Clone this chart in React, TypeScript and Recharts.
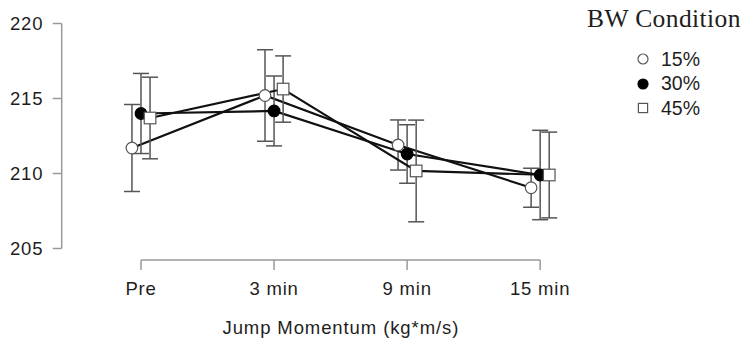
import React from "react";
import { LineChart, Line, XAxis, YAxis, ErrorBar, ReferenceLine } from "recharts";

const timePoints = ["Pre", "3 min", "9 min", "15 min"];
const yTicks = [205, 210, 215, 220];

// means and error bar half-widths
const mean15 = [211.7, 215.2, 211.9, 209.05];
const err15 = [2.9, 3.05, 1.67, 1.3];
const mean30 = [214.0, 214.17, 211.3, 209.9];
const err30 = [2.67, 2.33, 1.95, 2.98];
const mean45 = [213.7, 215.63, 210.17, 209.9];
const err45 = [2.72, 2.21, 3.39, 2.86];

const FONT = "'Liberation Sans', Arial, sans-serif";
const AXIS_GREY = "#9a9a9a";
const MARK_GREY = "#555";

const X_MIN = -0.596;
const X_MAX = 3.6;
const Y_MIN = 204.233;
const DODGE = 0.068;

type Kind = "open" | "filled" | "square";

const series: { name: string; mean: number[]; err: number[]; offset: number; kind: Kind }[] = [
  { name: "15%", mean: mean15, err: err15, offset: -DODGE, kind: "open" },
  { name: "30%", mean: mean30, err: err30, offset: 0, kind: "filled" },
  { name: "45%", mean: mean45, err: err45, offset: DODGE, kind: "square" },
];

const Marker = ({ cx, cy, kind, size = 5.8 }: { cx: number; cy: number; kind: Kind; size?: number }) => {
  if (kind === "square") {
    return (
      <rect
        x={cx - size}
        y={cy - size}
        width={size * 2}
        height={size * 2}
        fill="#fff"
        stroke={MARK_GREY}
        strokeWidth={1.2}
      />
    );
  }
  return (
    <circle
      cx={cx}
      cy={cy}
      r={size}
      fill={kind === "filled" ? "#000" : "#fff"}
      stroke={kind === "filled" ? "#000" : MARK_GREY}
      strokeWidth={1.2}
    />
  );
};

const XTick = (props: any) => {
  const { x, y, payload } = props;
  return (
    <text x={x} y={y + 24.5} textAnchor="middle" fontFamily={FONT} fontSize={18.5} letterSpacing={0.8} fill="#1e1e1e">
      {timePoints[payload.value]}
    </text>
  );
};

const YTick = (props: any) => {
  const { x, y, payload } = props;
  return (
    <text x={x - 9.4} y={y + 6.6} textAnchor="end" fontFamily={FONT} fontSize={18.5} letterSpacing={0.8} fill="#1e1e1e">
      {payload.value}
    </text>
  );
};

const AxisTitle = (props: any) => {
  const vb = props.viewBox || { x: 61.7, y: 260, width: 558.3 };
  return (
    <text
      x={vb.x + vb.width / 2}
      y={vb.y + 74}
      textAnchor="middle"
      fontFamily={FONT}
      fontSize={18.5}
      letterSpacing={0.9}
      fill="#1e1e1e"
    >
      Jump Momentum (kg*m/s)
    </text>
  );
};

const LegendBox = () => (
  <div style={{ position: "absolute", left: 0, top: 0, width: 751, height: 346, pointerEvents: "none" }}>
    <div
      style={{
        position: "absolute",
        left: 587,
        top: 4,
        fontFamily: "'Liberation Serif', 'Times New Roman', serif",
        fontSize: 25.5,
        lineHeight: "29px",
        color: "#1e1e1e",
        letterSpacing: 0.4,
        whiteSpace: "nowrap",
      }}
    >
      BW Condition
    </div>
    {series.map((s, i) => (
      <div
        key={s.name}
        style={{
          position: "absolute",
          left: 636,
          top: 47 + i * 24.6,
          height: 24,
          display: "flex",
          alignItems: "center",
          fontFamily: FONT,
          fontSize: 19.5,
          color: "#1e1e1e",
        }}
      >
        <svg width={14} height={14} style={{ marginRight: 11 }}>
          <Marker cx={7} cy={7} kind={s.kind} size={s.kind === "square" ? 4.6 : 5} />
        </svg>
        {s.name}
      </div>
    ))}
  </div>
);

export default function App() {
  return (
    <div style={{ position: "absolute", left: 0, top: 0, width: 751, height: 346, background: "#fff" }}>
      <LineChart width={751} height={346} margin={{ top: 23.5, right: 131, bottom: 0, left: 11.7 }}>
        <XAxis
          type="number"
          dataKey="x"
          domain={[X_MIN, X_MAX]}
          ticks={[0, 1, 2, 3]}
          allowDataOverflow
          axisLine={false}
          tickLine={{ stroke: AXIS_GREY, strokeWidth: 1.5 }}
          tickSize={10}
          tickMargin={0}
          height={86}
          interval={0}
          tick={XTick}
          label={{ content: AxisTitle }}
        />
        <YAxis
          type="number"
          domain={[Y_MIN, 220]}
          ticks={yTicks}
          allowDataOverflow
          axisLine={false}
          tickLine={{ stroke: AXIS_GREY, strokeWidth: 1.5 }}
          tickSize={9}
          tickMargin={0}
          width={50}
          interval={0}
          tick={YTick}
        />
        <ReferenceLine
          segment={[
            { x: X_MIN, y: 205 },
            { x: X_MIN, y: 220 },
          ]}
          stroke={AXIS_GREY}
          strokeWidth={1.5}
          ifOverflow="visible"
        />
        <ReferenceLine
          segment={[
            { x: 0, y: Y_MIN },
            { x: 3, y: Y_MIN },
          ]}
          stroke={AXIS_GREY}
          strokeWidth={1.5}
          ifOverflow="visible"
        />
        {series.map((s) => (
          <Line
            key={s.name}
            name={s.name}
            data={timePoints.map((t, i) => ({ label: t, x: i + s.offset, y: s.mean[i], err: s.err[i] }))}
            dataKey="y"
            type="linear"
            stroke="#111"
            strokeWidth={2.2}
            isAnimationActive={false}
            activeDot={false}
            dot={(p: any) => <Marker key={`${s.name}-${p.index}`} cx={p.cx} cy={p.cy} kind={s.kind} />}
          >
            <ErrorBar dataKey="err" direction="y" width={8} stroke={MARK_GREY} strokeWidth={1.5} isAnimationActive={false} />
          </Line>
        ))}
      </LineChart>
      <LegendBox />
    </div>
  );
}
